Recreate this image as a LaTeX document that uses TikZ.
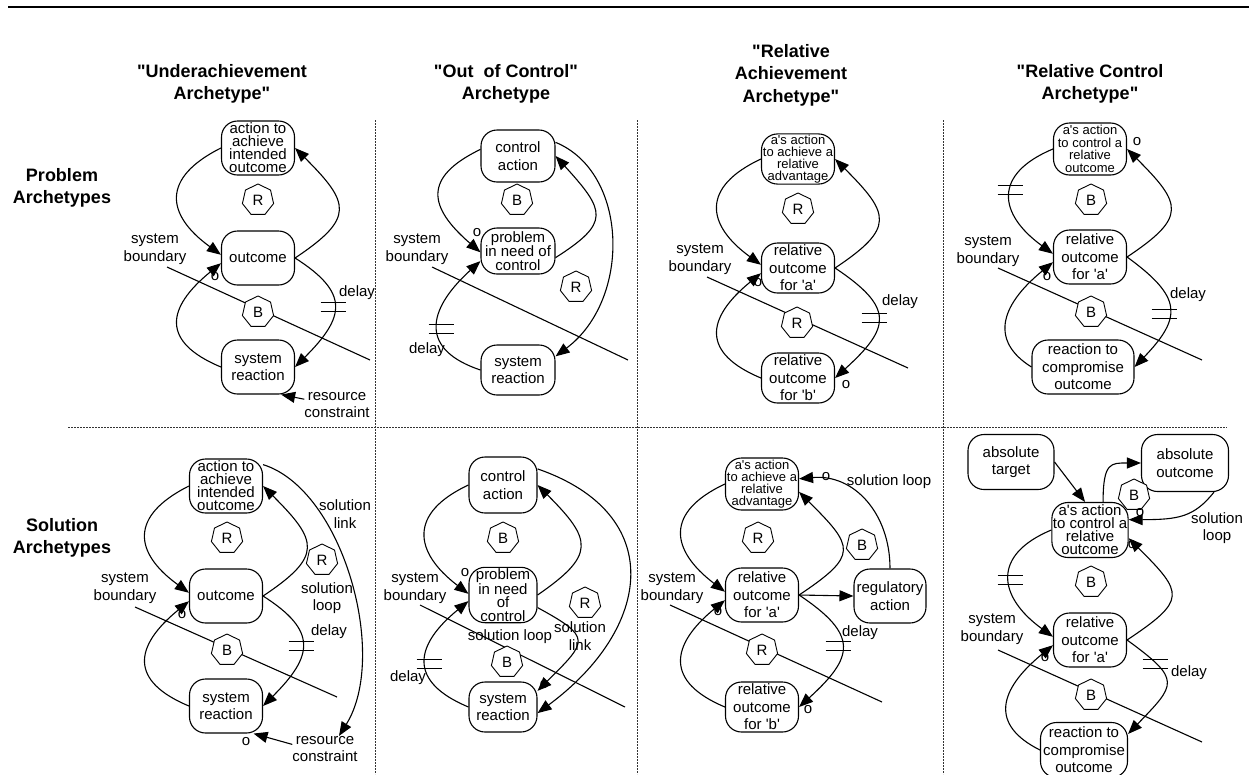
\documentclass[tikz,border=0pt]{standalone}
\usepackage{fontspec}
\setmainfont{Liberation Sans}[Ligatures=TeXOff]
\usepackage{tikz}
\usetikzlibrary{arrows.meta, shapes.geometric}
\tikzset{
  box/.style={rectangle, draw, rounded corners=16pt, line width=1.1pt,
    minimum width=73pt, minimum height=54pt, align=center, inner sep=1pt,
    font=\fontsize{15}{17.5}\selectfont},
  tightbox/.style={box, font=\fontsize{15}{13}\selectfont},
  smallbox/.style={box, font=\fontsize{13}{12}\selectfont},
  loopsign/.style={regular polygon, regular polygon sides=7, draw, fill=white,
    minimum size=32pt, inner sep=0pt, line width=0.9pt,
    font=\fontsize{15}{15}\selectfont},
  lbl/.style={align=center, inner sep=0pt, font=\fontsize{15}{17.5}\selectfont},
  hdr/.style={align=center, inner sep=0pt, font=\fontsize{18}{22.5}\selectfont\bfseries},
  arrow/.style={-{Triangle[length=14pt, width=11pt]}, line width=1.1pt},
  sysbound/.style={line width=1.1pt},
  divider/.style={line width=0.8pt, dash pattern=on 2pt off 1pt, color=black!80},
  dly/.pic={\draw[line width=1.1pt] (-12.5,-4.5) -- (12.5,-4.5) (-12.5,4.5) -- (12.5,4.5);}
}

\begin{document}
\begin{tikzpicture}[x=1pt, y=-1pt]
  \useasboundingbox (0,0) rectangle (1249,774);

  % top rule and panel dividers
  \draw[line width=2.5pt] (8,7) -- (1249,7);
  \draw[divider] (375,120) -- (375,774);
  \draw[divider] (637,120) -- (637,774);
  \draw[divider] (943,120) -- (943,774);
  \draw[divider] (68,427) -- (1227,427);

  % column and row titles
  \node[hdr] (hd1) at (222,84) {"Underachievement\\Archetype"};
  \node[hdr] (hd2) at (506,84) {"Out\ \ of Control"\\Archetype};
  \node[hdr] (hd3) at (791,75) {"Relative\\Achievement\\Archetype"};
  \node[hdr] (hd4) at (1090,84) {"Relative Control\\Archetype"};
  \node[hdr] (prob) at (62,188) {Problem\\Archetypes};
  \node[hdr] (sol) at (62,538) {Solution\\Archetypes};

  % Underachievement - problem
  \coordinate (bd1a) at (167,267);
  \coordinate (bd1b) at (370,360);
  \draw[sysbound] (bd1a) -- (bd1b);
  \node[tightbox] (act1) at (258,148) {action to\\achieve\\intended\\outcome};
  \node[box] (out1) at (258,258) {outcome};
  \node[box] (rea1) at (258,367) {system\\reaction};
  \node[loopsign] (r1) at (258,200) {R};
  \node[loopsign] (b1) at (258,312) {B};
  \node[lbl] (sb1) at (155,249) {system\\boundary};
  \node[lbl] (o1) at (215,277) {o};
  \node[lbl] (d1) at (357,293) {delay};
  \node[lbl] (rc1) at (337,405) {resource\\constraint};
  \draw[arrow] (act1.west) .. controls +(-60,30) and +(-55,-40) .. (out1.175);
  \draw[arrow] (out1.east) .. controls +(60,-40) and +(55,55) .. (act1.east);
  \draw[arrow] (out1.east) .. controls +(55,35) and +(50,-50) .. (rea1.east);
  \draw[arrow] (rea1.west) .. controls +(-60,-25) and +(-55,45) .. (out1.188);
  \draw[arrow] (rc1.170) -- (rea1.-50);
  \pic at (333,307) {dly};

  % Out of control - problem
  \coordinate (bd2a) at (432,267);
  \coordinate (bd2b) at (628,360);
  \draw[sysbound] (bd2a) -- (bd2b);
  \node[box, minimum width=74pt, minimum height=52pt] (ctl2) at (518,156) {control\\action};
  \node[box, minimum width=74pt, minimum height=46pt, font=\fontsize{15}{14}\selectfont] (prb2) at (518,251) {problem\\in need of\\control};
  \node[box, minimum width=74pt, minimum height=50pt] (rea2) at (518,370) {system\\reaction};
  \node[loopsign] (b2) at (517,200) {B};
  \node[loopsign] (r2) at (576,287) {R};
  \node[lbl] (sb2) at (417,249) {system\\boundary};
  \node[lbl] (o2) at (477,233) {o};
  \node[lbl] (d2) at (427,350) {delay};
  \draw[arrow] (ctl2.170) .. controls +(-58,28) and +(-52,-45) .. (prb2.182);
  \draw[arrow] (prb2.-10) .. controls +(55,-35) and +(50,55) .. (ctl2.east);
  \draw[arrow] (rea2.west) .. controls +(-60,-20) and +(-55,50) .. (prb2.195);
  \draw[arrow] (ctl2.20) .. controls +(73,30) and +(76,-57) .. (rea2.20);
  \pic at (441,329) {dly};

  % Relative achievement - problem
  \coordinate (bd3a) at (707,277);
  \coordinate (bd3b) at (908,368);
  \draw[sysbound] (bd3a) -- (bd3b);
  \node[smallbox, minimum height=48pt] (adv3) at (798,159) {a's action\\to achieve a\\relative\\advantage};
  \node[box, minimum height=50pt] (rela3) at (798,268) {relative\\outcome\\for 'a'};
  \node[box, minimum height=50pt] (relb3) at (798,378) {relative\\outcome\\for 'b'};
  \node[loopsign] (r3a) at (798,209) {R};
  \node[loopsign] (r3b) at (797,323) {R};
  \node[lbl] (sb3) at (700,259) {system\\boundary};
  \node[lbl] (o3a) at (758,283) {o};
  \node[lbl] (o3b) at (846,385) {o};
  \node[lbl] (d3) at (900,302) {delay};
  \draw[arrow] (adv3.west) .. controls +(-60,28) and +(-55,-40) .. (rela3.175);
  \draw[arrow] (rela3.east) .. controls +(60,-40) and +(55,55) .. (adv3.east);
  \draw[arrow] (rela3.east) .. controls +(60,40) and +(55,-50) .. (relb3.east);
  \draw[arrow] (relb3.west) .. controls +(-60,-25) and +(-55,45) .. (rela3.188);
  \pic at (874,318) {dly};

  % Relative control - problem
  \coordinate (bd4a) at (998,268);
  \coordinate (bd4b) at (1202,360);
  \draw[sysbound] (bd4a) -- (bd4b);
  \node[box, font=\fontsize{13}{12.5}\selectfont, minimum height=52pt] (ctl4) at (1090,149) {a's action\\to control a\\relative\\outcome};
  \node[box] (rela4) at (1090,257) {relative\\outcome\\for 'a'};
  \node[box, minimum width=102pt] (cmp4) at (1083,367) {reaction to\\compromise\\outcome};
  \node[loopsign] (b4a) at (1091,200) {B};
  \node[loopsign] (b4b) at (1091,312) {B};
  \node[lbl] (sb4) at (988,251) {system\\boundary};
  \node[lbl] (o4a) at (1137,142) {o};
  \node[lbl] (o4b) at (1047,277) {o};
  \node[lbl] (d4) at (1188,295) {delay};
  \draw[arrow] (ctl4.west) .. controls +(-60,25) and +(-55,-40) .. (rela4.175);
  \draw[arrow] (rela4.east) .. controls +(60,-40) and +(55,55) .. (ctl4.east);
  \draw[arrow] (rela4.east) .. controls +(55,40) and +(48,-50) .. (cmp4.east);
  \draw[arrow] (cmp4.west) .. controls +(-40,-25) and +(-55,45) .. (rela4.188);
  \pic at (1010,190) {dly};
  \pic at (1164,314) {dly};

  % Underachievement - solution
  \coordinate (bd5a) at (135,607);
  \coordinate (bd5b) at (337,697);
  \draw[sysbound] (bd5a) -- (bd5b);
  \node[tightbox] (act5) at (226,486) {action to\\achieve\\intended\\outcome};
  \node[box] (out5) at (226,596) {outcome};
  \node[box] (rea5) at (226,706) {system\\reaction};
  \node[loopsign] (r5a) at (227,538) {R};
  \node[loopsign] (r5b) at (322,560) {R};
  \node[loopsign] (b5) at (227,650) {B};
  \node[lbl] (sb5) at (125,588) {system\\boundary};
  \node[lbl] (o5a) at (182,615) {o};
  \node[lbl] (o5b) at (246,742) {o};
  \node[lbl] (d5) at (329,632) {delay};
  \node[lbl] (lp5) at (327,598) {solution\\loop};
  \node[lbl] (lk5) at (345,514) {solution\\link};
  \node[lbl] (rc5) at (325,749) {resource\\constraint};
  \draw[arrow] (act5.west) .. controls +(-60,30) and +(-55,-40) .. (out5.175);
  \draw[arrow] (out5.east) .. controls +(60,-40) and +(55,55) .. (act5.east);
  \draw[arrow] (out5.east) .. controls +(55,35) and +(50,-50) .. (rea5.east);
  \draw[arrow] (rea5.west) .. controls +(-60,-25) and +(-55,45) .. (out5.188);
  \draw[arrow] (act5.30) .. controls +(80,25) and +(50,-80) .. ([xshift=14pt]rc5.north);
  \draw[arrow] (rc5.172) -- (rea5.-45);
  \pic at (301,646) {dly};

  % Out of control - solution
  \coordinate (bd6a) at (420,605);
  \coordinate (bd6b) at (625,707);
  \draw[sysbound] (bd6a) -- (bd6b);
  \node[box, minimum width=68pt, minimum height=56pt] (ctl6) at (503,485) {control\\action};
  \node[box, minimum width=68pt, minimum height=55pt, font=\fontsize{15}{13.7}\selectfont] (prb6) at (503,595) {problem\\in need\\of\\control};
  \node[box, minimum width=68pt, minimum height=50pt] (rea6) at (503,707) {system\\reaction};
  \node[loopsign] (b6a) at (503,538) {B};
  \node[loopsign] (r6) at (585,603) {R};
  \node[loopsign] (b6b) at (507,662) {B};
  \node[lbl] (sb6) at (415,588) {system\\boundary};
  \node[lbl] (o6a) at (465,573) {o};
  \node[lbl] (o6b) at (544,685) {o};
  \node[lbl] (d6) at (408,678) {delay};
  \node[lbl] (lp6) at (510,637) {solution loop};
  \node[lbl] (lk6) at (580,636) {solution\\link};
  \draw[arrow] (ctl6.west) .. controls +(-60,28) and +(-55,-42) .. (prb6.178);
  \draw[arrow] (prb6.east) .. controls +(58,-40) and +(55,55) .. (ctl6.east);
  \draw[arrow] (rea6.west) .. controls +(-60,-25) and +(-55,45) .. (prb6.190);
  \draw[arrow] (prb6.-20) .. controls +(55,30) and +(50,-50) .. (rea6.25);
  \draw[arrow] (ctl6.25) .. controls +(130,45) and +(115,-85) .. (rea6.-10);
  \pic at (429,664) {dly};

  % Relative achievement - solution
  \coordinate (bd7a) at (670,605);
  \coordinate (bd7b) at (882,702);
  \draw[sysbound] (bd7a) -- (bd7b);
  \node[smallbox, minimum height=52pt] (adv7) at (762,484) {a's action\\to achieve a\\relative\\advantage};
  \node[box] (rela7) at (762,595) {relative\\outcome\\for 'a'};
  \node[box, minimum height=50pt] (relb7) at (762,707) {relative\\outcome\\for 'b'};
  \node[box, minimum width=72pt] (reg7) at (890,596) {regulatory\\action};
  \node[loopsign] (r7a) at (758,538) {R};
  \node[loopsign] (b7) at (862,545) {B};
  \node[loopsign] (r7b) at (762,650) {R};
  \node[lbl] (sb7) at (672,588) {system\\boundary};
  \node[lbl] (o7a) at (826,477) {o};
  \node[lbl] (o7b) at (718,612) {o};
  \node[lbl] (o7c) at (808,710) {o};
  \node[lbl] (d7) at (860,633) {delay};
  \node[lbl] (lp7) at (889,482) {solution loop};
  \draw[arrow] (adv7.west) .. controls +(-60,28) and +(-55,-42) .. (rela7.175);
  \draw[arrow] (rela7.east) .. controls +(60,-40) and +(55,55) .. (adv7.-12);
  \draw[arrow] (rela7.east) .. controls +(60,40) and +(55,-50) .. (relb7.east);
  \draw[arrow] (relb7.west) .. controls +(-60,-25) and +(-55,45) .. (rela7.188);
  \draw[arrow] (rela7.east) -- (reg7.west);
  \draw[arrow] (reg7.north) .. controls +(0,-55) and +(55,-5) .. (adv7.8);
  \pic at (838,646) {dly};

  % Relative control - solution
  \coordinate (bd8a) at (998,650);
  \coordinate (bd8b) at (1202,742);
  \draw[sysbound] (bd8a) -- (bd8b);
  \node[box, minimum width=86pt, minimum height=55pt] (tgt8) at (1011,462) {absolute\\target};
  \node[box, minimum width=87pt, minimum height=57pt] (abs8) at (1185,463) {absolute\\outcome};
  \node[tightbox, minimum width=74pt, minimum height=55pt] (ctl8) at (1090,530) {a's action\\to control a\\relative\\outcome};
  \node[box] (rela8) at (1090,640) {relative\\outcome\\for 'a'};
  \node[box, minimum width=87pt, minimum height=55pt] (cmp8) at (1084,750) {reaction to\\compromise\\outcome};
  \node[loopsign] (b8a) at (1134,495) {B};
  \node[loopsign] (b8b) at (1091,582) {B};
  \node[loopsign] (b8c) at (1091,695) {B};
  \node[lbl] (sb8) at (992,629) {system\\boundary};
  \node[lbl] (o8a) at (1140,513) {o};
  \node[lbl] (o8b) at (1132,545) {o};
  \node[lbl] (o8c) at (1045,658) {o};
  \node[lbl] (d8) at (1189,673) {delay};
  \node[lbl] (lp8) at (1217,528) {solution\\loop};
  \draw[arrow] (tgt8.east) -- (ctl8.100);
  \draw[arrow] (ctl8.65) .. controls +(0,-40) and +(-30,0) .. (abs8.west);
  \draw[arrow] (abs8.-45) .. controls +(-20,25) and +(50,0) .. (ctl8.15);
  \draw[arrow] (ctl8.west) .. controls +(-60,25) and +(-55,-40) .. (rela8.175);
  \draw[arrow] (rela8.east) .. controls +(60,-40) and +(55,55) .. (ctl8.-12);
  \draw[arrow] (rela8.east) .. controls +(55,40) and +(48,-50) .. (cmp8.20);
  \draw[arrow] (cmp8.west) .. controls +(-50,-25) and +(-55,45) .. (rela8.188);
  \pic at (1010,580) {dly};
  \pic at (1155,664) {dly};

\end{tikzpicture}
\end{document}
